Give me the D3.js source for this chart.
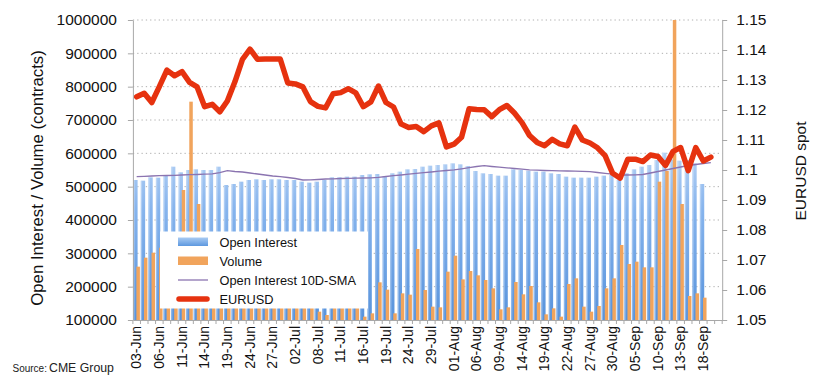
<!DOCTYPE html>
<html><head><meta charset="utf-8">
<script src="https://cdn.jsdelivr.net/npm/d3@7"></script>
<style>
body{margin:0;background:#fff;}
svg{display:block;font-family:"Liberation Sans",Arial,sans-serif;}
</style>
</head><body>
<svg id="c" width="817" height="382"></svg>
<script>
// ---------- DATA ----------
const categories = [
 "03-Jun","04-Jun","05-Jun","06-Jun","07-Jun","10-Jun","11-Jun","12-Jun","13-Jun","14-Jun",
 "17-Jun","18-Jun","19-Jun","20-Jun","21-Jun","24-Jun","25-Jun","26-Jun","27-Jun","28-Jun",
 "01-Jul","02-Jul","03-Jul","05-Jul","08-Jul","09-Jul","10-Jul","11-Jul","12-Jul","15-Jul",
 "16-Jul","17-Jul","18-Jul","19-Jul","22-Jul","23-Jul","24-Jul","25-Jul","26-Jul","29-Jul",
 "30-Jul","31-Jul","01-Aug","02-Aug","05-Aug","06-Aug","07-Aug","08-Aug","09-Aug","12-Aug",
 "13-Aug","14-Aug","15-Aug","16-Aug","19-Aug","20-Aug","21-Aug","22-Aug","23-Aug","26-Aug",
 "27-Aug","28-Aug","29-Aug","30-Aug","03-Sep","04-Sep","05-Sep","06-Sep","09-Sep","10-Sep",
 "11-Sep","12-Sep","13-Sep","16-Sep","17-Sep","18-Sep","19-Sep","20-Sep"];

const openInterest = [
 520000,518000,528000,527000,535000,560000,543000,550000,552000,550000,
 550000,560000,505000,508000,515000,520000,522000,520000,522000,522000,
 520000,520000,515000,512000,515000,520000,528000,528000,530000,530000,
 535000,537000,538000,532000,540000,545000,552000,553000,560000,563000,
 565000,567000,570000,567000,562000,547000,540000,538000,533000,533000,
 552000,550000,548000,545000,545000,540000,538000,530000,527000,527000,
 527000,530000,533000,535000,520000,540000,552000,560000,565000,580000,
 602000,582000,578000,580000,570000,508000];

const volume = [
 260000,287000,302000,317000,340000,330000,490000,755000,448000,320000,
 250000,230000,260000,240000,220000,200000,210000,230000,190000,200000,
 210000,180000,170000,190000,125000,115000,170000,160000,175000,165000,
 110000,120000,213000,191000,120000,180000,176000,313000,190000,140000,
 138000,245000,293000,222000,247000,234000,220000,195000,132000,138000,
 214000,177000,202000,153000,117000,135000,110000,208000,225000,140000,
 125000,142000,195000,225000,325000,268000,275000,258000,258000,515000,
 547000,1000000,448000,172000,180000,167000];

const sma10 = [
 530000,531000,532000,533000,533500,534000,535000,536000,536500,537500,
 538500,542000,548000,545500,544000,541000,538000,535000,532000,530000,
 527500,524500,520000,520500,521500,523000,523500,524500,525000,525500,
 526000,526500,528000,530500,533000,535000,537500,540000,542000,544000,
 546500,548500,550500,553500,557000,560500,563000,560500,558500,556500,
 554500,552500,550500,549500,548500,548000,547500,547000,546500,546000,
 545000,542500,540000,537500,535000,535000,535500,536500,541000,545500,
 550000,554500,559000,563500,566500,569500,572000];

const eurusd = [
 1.1244,1.1256,1.1225,1.1278,1.1333,1.1314,1.1328,1.1292,1.1277,1.1211,
 1.1219,1.1194,1.1230,1.1294,1.1369,1.1403,1.1369,1.1370,1.1370,1.1370,
 1.1290,1.1287,1.1277,1.1228,1.1212,1.1207,1.1254,1.1258,1.1271,1.1257,
 1.1211,1.1227,1.1280,1.1225,1.1210,1.1153,1.1142,1.1145,1.1128,1.1147,
 1.1157,1.1077,1.1086,1.1109,1.1204,1.1202,1.1201,1.1178,1.1201,1.1215,
 1.1190,1.1158,1.1115,1.1092,1.1081,1.1102,1.1087,1.1081,1.1143,1.1100,
 1.1090,1.1074,1.1048,1.0989,1.0973,1.1036,1.1036,1.1028,1.1050,1.1045,
 1.1015,1.1062,1.1075,1.0998,1.1075,1.1030,1.1043];

const leftTicks = [100000,200000,300000,400000,500000,600000,700000,800000,900000,1000000];
const rightTicks = [1.05,1.06,1.07,1.08,1.09,1.10,1.11,1.12,1.13,1.14,1.15];
const xTickLabels = ["03-Jun","06-Jun","11-Jun","14-Jun","19-Jun","24-Jun","27-Jun","02-Jul","08-Jul",
 "11-Jul","16-Jul","19-Jul","24-Jul","29-Jul","01-Aug","06-Aug","09-Aug","14-Aug","19-Aug","22-Aug",
 "27-Aug","30-Aug","05-Sep","10-Sep","13-Sep","18-Sep"];
const legendItems = ["Open Interest","Volume","Open Interest 10D-SMA","EURUSD"];

// ---------- CHART ----------
const svg = d3.select("#c");
const L = 132.9, R = 722.2, T = 20, B = 320;
const x = d3.scaleBand().domain(categories).range([L, R]).padding(0);
const bw = x.bandwidth();
const yL = d3.scaleLinear().domain([100000, 1000000]).range([B, T]);
const yR = d3.scaleLinear().domain([1.05, 1.15]).range([B, T]);

const defs = svg.append("defs");
const gB = defs.append("linearGradient").attr("id","gBlue")
  .attr("gradientUnits","userSpaceOnUse").attr("x1",0).attr("x2",0).attr("y1",150).attr("y2",320);
gB.append("stop").attr("offset",0).attr("stop-color","#b8d3f5");
gB.append("stop").attr("offset",0.35).attr("stop-color","#86b4ed");
gB.append("stop").attr("offset",1).attr("stop-color","#5893dc");
const gS = defs.append("linearGradient").attr("id","gSw").attr("x1",0).attr("x2",0).attr("y1",0).attr("y2",1);
gS.append("stop").attr("offset",0).attr("stop-color","#a9cbf3");
gS.append("stop").attr("offset",1).attr("stop-color","#5d98df");

// gridlines
svg.append("g").selectAll("line").data(leftTicks.filter(t => t > 100000)).join("line")
  .attr("x1", L).attr("x2", R).attr("y1", d => yL(d)).attr("y2", d => yL(d))
  .attr("stroke", "#b0b0b0").attr("stroke-width", 1).attr("stroke-dasharray", "1.3,3");

// OI bars
const oiData = openInterest.map((v,i) => ({c: categories[i], v}));
svg.append("g").selectAll("rect").data(oiData).join("rect")
  .attr("x", d => x(d.c) + 0.3).attr("width", 4.4)
  .attr("y", d => yL(d.v)).attr("height", d => yL(100000) - yL(d.v))
  .attr("fill", "url(#gBlue)");
svg.append("g").selectAll("rect").data(oiData).join("rect")
  .attr("x", d => x(d.c) + 0.3).attr("width", 1.4)
  .attr("y", d => yL(d.v)).attr("height", d => yL(100000) - yL(d.v))
  .attr("fill", "#ffffff").attr("opacity", 0.3);

// Volume bars
const volData = volume.map((v,i) => ({c: categories[i], v}));
svg.append("g").selectAll("rect").data(volData).join("rect")
  .attr("x", d => x(d.c) + 3.5).attr("width", 3.5)
  .attr("y", d => yL(d.v)).attr("height", d => yL(100000) - yL(d.v))
  .attr("fill", "#f1a45c");

// SMA line
const smaLine = d3.line().x((d,i) => x(categories[i]) + bw/2).y(d => yL(d));
svg.append("path").datum(sma10).attr("d", smaLine)
  .attr("fill","none").attr("stroke","#8b74b0").attr("stroke-width",1.3);

// EURUSD line
const fxLine = d3.line().x((d,i) => x(categories[i]) + bw/2).y(d => yR(d));
svg.append("path").datum(eurusd).attr("d", fxLine)
  .attr("fill","none").attr("stroke","#e6320f").attr("stroke-width",5.5)
  .attr("stroke-linejoin","round").attr("stroke-linecap","round");

// axes
const axisColor = "#a8a8a8";
const gl = svg.append("g").attr("transform", `translate(${L},0)`)
  .call(d3.axisLeft(yL).tickValues(leftTicks).tickSize(5).tickSizeOuter(0).tickPadding(11).tickFormat(d3.format("d")));
const gr = svg.append("g").attr("transform", `translate(${R},0)`)
  .call(d3.axisRight(yR).tickValues(rightTicks).tickSize(5).tickSizeOuter(0).tickPadding(9).tickFormat(d => String(+d.toFixed(2))));
const gb = svg.append("g").attr("transform", `translate(0,${B})`)
  .call(d3.axisBottom(x).tickValues(xTickLabels).tickSize(0).tickSizeOuter(0));
[gl, gr, gb].forEach(g => {
  g.select(".domain").attr("stroke", axisColor);
  g.selectAll(".tick line").attr("stroke", axisColor);
});
gl.selectAll("text").attr("font-size", 15.5).attr("fill","#111").attr("font-family","Liberation Sans, Arial, sans-serif");
gr.selectAll("text").attr("font-size", 15.5).attr("fill","#111").attr("font-family","Liberation Sans, Arial, sans-serif");
gb.selectAll("text").attr("font-size", 14).attr("fill","#111").attr("font-family","Liberation Sans, Arial, sans-serif")
  .attr("transform","rotate(-90)").attr("text-anchor","end")
  .attr("x", -6).attr("y", 4.8).attr("dy", null);
// category tick marks on bottom axis
svg.append("g").selectAll("line").data(categories.concat(["__end"])).join("line")
  .attr("x1", d => d === "__end" ? R : x(d)).attr("x2", d => d === "__end" ? R : x(d))
  .attr("y1", B).attr("y2", B + 4).attr("stroke", axisColor);

// axis titles
svg.append("text").attr("transform", `translate(43,178) rotate(-90)`)
  .attr("text-anchor","middle").attr("font-size",16.8).attr("fill","#111")
  .text("Open Interest / Volume (contracts)");
svg.append("text").attr("transform", `translate(806,171) rotate(-90)`)
  .attr("text-anchor","middle").attr("font-size",15.5).attr("fill","#111")
  .text("EURUSD spot");

// legend
const lg = svg.append("g");
lg.append("rect").attr("x",160).attr("y",231.5).attr("width",208).attr("height",77).attr("fill","#fff");
const ly = [242, 261, 280, 299];
lg.append("rect").attr("x",178).attr("y",ly[0]-4.5).attr("width",30).attr("height",8.5).attr("fill","url(#gSw)");
lg.append("rect").attr("x",178).attr("y",ly[1]-4.5).attr("width",30).attr("height",8.5).attr("fill","#f1a45c");
lg.append("line").attr("x1",178).attr("x2",208).attr("y1",ly[2]).attr("y2",ly[2]).attr("stroke","#8b74b0").attr("stroke-width",1.3);
lg.append("line").attr("x1",179).attr("x2",207).attr("y1",ly[3]).attr("y2",ly[3]).attr("stroke","#e6320f").attr("stroke-width",5.5).attr("stroke-linecap","round");
lg.selectAll("text").data(legendItems).join("text")
  .attr("x",219.5).attr("y",(d,i) => ly[i] + 4.8).attr("font-size",12.8).attr("fill","#111").text(d => d);

// source
svg.append("text").attr("x",12.5).attr("y",371.5).attr("fill","#222").attr("font-size",10).text("Source:");
svg.append("text").attr("x",49).attr("y",371.5).attr("fill","#222").attr("font-size",12.3).text("CME Group");
</script>
</body></html>
